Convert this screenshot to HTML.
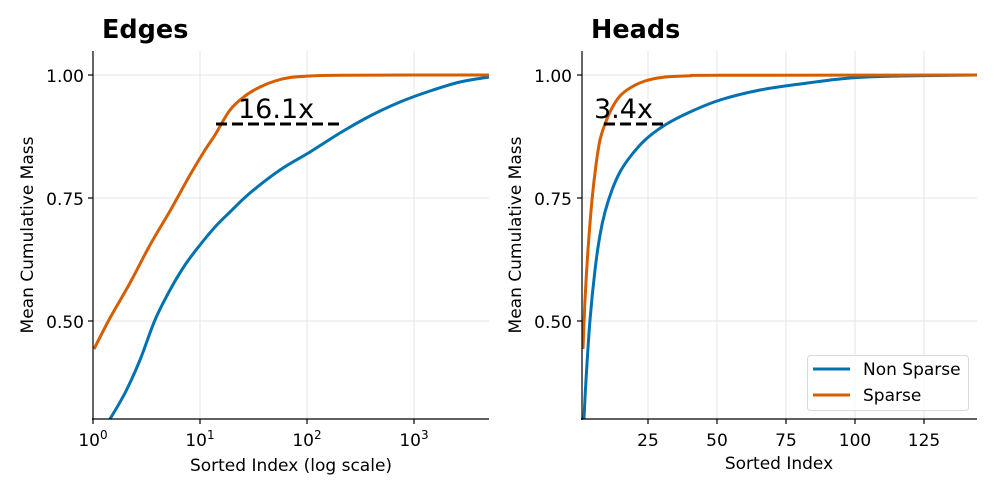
<!DOCTYPE html>
<html><head><meta charset="utf-8"><style>body{margin:0;background:#fff}svg{display:block}</style></head><body>
<svg id="s" width="996" height="498" xmlns="http://www.w3.org/2000/svg" font-family="'DejaVu Sans','Liberation Sans',sans-serif">
<rect width="996" height="498" fill="#fff"/>
<!-- LEFT -->
<g stroke="#e6e6e6" stroke-width="1">
<line x1="200" y1="51" x2="200" y2="419"/><line x1="307" y1="51" x2="307" y2="419"/><line x1="414" y1="51" x2="414" y2="419"/>
<line x1="93" y1="75" x2="489" y2="75"/><line x1="93" y1="198" x2="489" y2="198"/><line x1="93" y1="321" x2="489" y2="321"/>
</g>
<g fill="none" stroke-width="3" stroke-linejoin="round">
<polyline class="sm" stroke="#0072b2" points="110,419 125,393 140,360 155,320 170,290 185,265 200,245 215,227 230,212 250,193 280,170 310,152 340,133 370,116 400,102 430,91 460,82 489,77"/>
<polyline class="sm" stroke="#d55e00" points="94,349 110,318 130,283 150,245 170,211 190,175 205,150 215,135 230,110 245,96 260,87 275,81 290,77.5 310,76 340,75.2 489,75"/>
</g>
<line x1="216" y1="124" x2="341" y2="124" stroke="#000" stroke-width="3" stroke-dasharray="11,5"/>
<text x="238" y="118" font-size="27">16.1x</text>
<g stroke="#000" stroke-width="1.2"><line x1="93" y1="51" x2="93" y2="420"/><line x1="92" y1="419" x2="489" y2="419"/>
<line x1="88" y1="75" x2="93" y2="75"/><line x1="88" y1="198" x2="93" y2="198"/><line x1="88" y1="321" x2="93" y2="321"/>
<line x1="93" y1="419" x2="93" y2="424"/><line x1="200" y1="419" x2="200" y2="424"/><line x1="307" y1="419" x2="307" y2="424"/><line x1="414" y1="419" x2="414" y2="424"/></g>
<g font-size="17" text-anchor="end"><text x="84" y="82">1.00</text><text x="84" y="205">0.75</text><text x="84" y="328">0.50</text></g>
<g font-size="17" text-anchor="middle"><text x="93" y="446">10<tspan font-size="12" dy="-7">0</tspan></text><text x="200" y="446">10<tspan font-size="12" dy="-7">1</tspan></text><text x="307" y="446">10<tspan font-size="12" dy="-7">2</tspan></text><text x="414" y="446">10<tspan font-size="12" dy="-7">3</tspan></text></g>
<text x="291" y="471" font-size="17" text-anchor="middle">Sorted Index (log scale)</text>
<text transform="translate(33,235) rotate(-90)" font-size="17" text-anchor="middle">Mean Cumulative Mass</text>
<text x="102" y="38" font-size="25.5" font-weight="bold">Edges</text>
<!-- RIGHT -->
<g stroke="#e6e6e6" stroke-width="1">
<line x1="648" y1="51" x2="648" y2="419"/><line x1="717" y1="51" x2="717" y2="419"/><line x1="786" y1="51" x2="786" y2="419"/><line x1="855" y1="51" x2="855" y2="419"/><line x1="924" y1="51" x2="924" y2="419"/>
<line x1="582" y1="75" x2="977" y2="75"/><line x1="582" y1="198" x2="977" y2="198"/><line x1="582" y1="321" x2="977" y2="321"/>
</g>
<g fill="none" stroke-width="3" stroke-linejoin="round">
<polyline class="sm" stroke="#0072b2" points="584,419 586,380 590,320 595,270 600,235 605,212 612,190 620,172 630,157 645,140 665,125 690,112 720,100 760,90 800,84 850,78 900,76 977,75"/>
<polyline class="sm" stroke="#d55e00" points="583,349 585,300 588,250 592,200 596,165 600,140 605,124 612,108 620,96 630,88 645,81 665,77 690,75.8 720,75.3 977,75"/>
</g>
<line x1="604" y1="124" x2="665" y2="124" stroke="#000" stroke-width="3" stroke-dasharray="11,5"/>
<text x="594" y="118" font-size="27">3.4x</text>
<g stroke="#000" stroke-width="1.2"><line x1="582" y1="51" x2="582" y2="420"/><line x1="581" y1="419" x2="977" y2="419"/>
<line x1="577" y1="75" x2="582" y2="75"/><line x1="577" y1="198" x2="582" y2="198"/><line x1="577" y1="321" x2="582" y2="321"/>
<line x1="648" y1="419" x2="648" y2="424"/><line x1="717" y1="419" x2="717" y2="424"/><line x1="786" y1="419" x2="786" y2="424"/><line x1="855" y1="419" x2="855" y2="424"/><line x1="924" y1="419" x2="924" y2="424"/></g>
<g font-size="17" text-anchor="end"><text x="572" y="82">1.00</text><text x="572" y="205">0.75</text><text x="572" y="328">0.50</text></g>
<g font-size="17" text-anchor="middle"><text x="648" y="446">25</text><text x="717" y="446">50</text><text x="786" y="446">75</text><text x="855" y="446">100</text><text x="924" y="446">125</text></g>
<text x="779" y="469" font-size="17" text-anchor="middle">Sorted Index</text>
<text transform="translate(521,235) rotate(-90)" font-size="17" text-anchor="middle">Mean Cumulative Mass</text>
<text x="591" y="38" font-size="25.5" font-weight="bold">Heads</text>
<rect x="807.5" y="355.5" width="161" height="55" rx="3" fill="#fff" fill-opacity="0.8" stroke="#d9d9d9"/>
<line x1="813" y1="369" x2="850" y2="369" stroke="#0072b2" stroke-width="3"/>
<line x1="813" y1="395" x2="850" y2="395" stroke="#d55e00" stroke-width="3"/>
<text x="863" y="375" font-size="17">Non Sparse</text>
<text x="863" y="401" font-size="17">Sparse</text>
</svg>
<script>
document.querySelectorAll('polyline.sm').forEach(function(pl){
var p=pl.getAttribute('points').trim().split(/\s+/).map(function(s){return s.split(',').map(Number);});
var d='M'+p[0][0]+','+p[0][1];
for(var i=0;i<p.length-1;i++){var p0=p[i-1]||p[i],p1=p[i],p2=p[i+1],p3=p[i+2]||p2;
var c1=[p1[0]+(p2[0]-p0[0])/6,p1[1]+(p2[1]-p0[1])/6],c2=[p2[0]-(p3[0]-p1[0])/6,p2[1]-(p3[1]-p1[1])/6];
d+=' C'+c1.join(',')+' '+c2.join(',')+' '+p2.join(',');}
var path=document.createElementNS('http://www.w3.org/2000/svg','path');
path.setAttribute('d',d);path.setAttribute('stroke',pl.getAttribute('stroke'));
pl.parentNode.replaceChild(path,pl);});
</script>
</body></html>
